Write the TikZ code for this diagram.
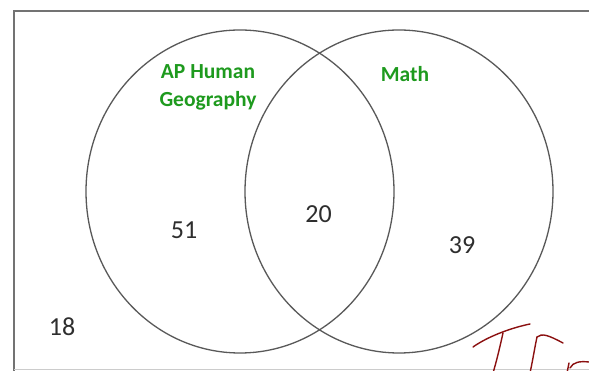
\documentclass[tikz,border=0pt]{standalone}
\usepackage{fontspec}
\setmainfont{Carlito}
\usetikzlibrary{shapes.geometric}
\definecolor{labgreen}{HTML}{1E9A1E}
\definecolor{numgray}{HTML}{2E2E2E}
\definecolor{inkred}{HTML}{8B1010}
\tikzset{
  setellipse/.style={ellipse, draw=black!65, line width=1.3pt, minimum width=308pt, minimum height=323pt, inner sep=0pt},
  setlabel/.style={text=labgreen, font=\fontsize{21.5}{28}\selectfont\bfseries, align=center, inner sep=0pt},
  count/.style={text=numgray, font=\fontsize{26}{28}\selectfont, inner sep=0pt},
  ink/.style={draw=inkred, line width=1.4pt, line cap=round, line join=round}
}
\begin{document}
\begin{tikzpicture}[x=1pt,y=1pt]
\useasboundingbox (0,0) rectangle (589,371);
\fill[white] (0,0) rectangle (589,371);
\draw[black!55, line width=1.6pt] (14,-10) -- (14,360) -- (600,360);
\draw[black!20, line width=1pt] (14,1.5) -- (600,1.5);
\node[setellipse] (ap) at (240,179.5) {};
\node[setellipse] (math) at (399,179.5) {};
\node[setlabel] (aplab) at (208,284) {AP Human\\Geography};
\node[setlabel] (mathlab) at (405,297) {Math};
\node[count] (n51) at (184,141) {51};
\node[count] (n20) at (318.5,157) {20};
\node[count] (n39) at (462,126) {39};
\node[count] (n18) at (62,44.5) {18};
% handwritten marks
\draw[ink] (473,24) .. controls (490,36) and (515,44) .. (530,47);
\draw[ink] (503,38) .. controls (499,20) and (496,8) .. (493,-2);
\draw[ink] (530,-2) .. controls (533,12) and (535,25) .. (537,34);
\draw[ink] (537,34) .. controls (542,38) and (548,36) .. (563,28);
\draw[ink] (570,3) .. controls (573,9) and (580,10) .. (589,9);
\draw[ink] (569,8) -- (567,-2);
\end{tikzpicture}
\end{document}
